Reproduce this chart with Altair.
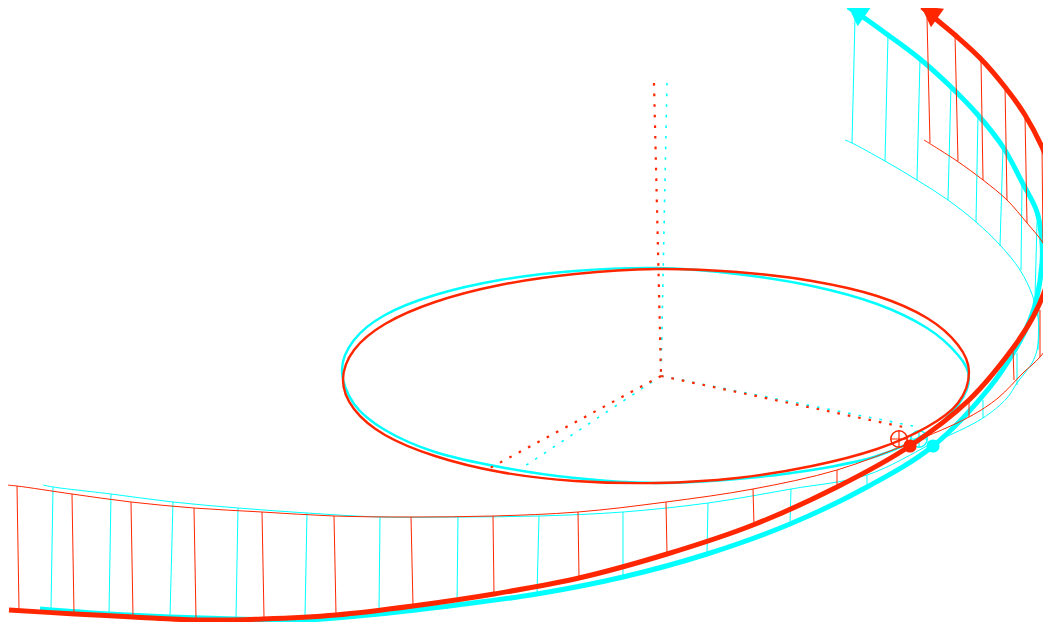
import altair as alt
import pandas as pd

RED = "#ff2600"
CYAN = "#00ffff"

red_thick = [(9,610),(75,614),(133,617),(197,620),(263,619),(336,615),(413,606),(494,594),(579,578),(667,554),
             (753,525),(837,487),(910,446),(969,400),(1013,348),(1033,317),(1045,290),(1051,267),(1058,225),(1051,170),
             (1042,147),(1025,115),(1005,87),(980,58),(955,35),(937,20),(922,7)]
cyan_thick = [(40,609),(109,614),(170,617),(236,619),(305,620),(379,614),(457,605),(537,594),(623,577),(707,554),
              (790,524),(867,487),(933,446),(990,387),(1015,350),(1030,320),(1037,297),(1042,263),(1042,243),(1037,212),
              (1022,182),(1003,147),(978,115),(950,86),(920,59),(888,35),(863,17),(848,7)]

red_base = [(6,485),(17,486),(72,494),(131,502),(194,508),(262,512),(334,516),(411,517),(493,516),(578,512),
            (666,502),(753,489),(837,470),(910,443),(969,417),(998,398),(1023,373),(1040,357),(1051,340),(1060,300),
            (1051,262),(1043,243),(1027,223),(1007,200),(983,180),(957,161),(924,140)]
cyan_base = [(43,485),(53,487),(111,494),(173,502),(238,508),(307,513),(380,517),(458,517),(539,516),(623,512),
             (708,503),(791,489),(867,475),(933,443),(983,418),(1007,398),(1017,383),(1032,363),(1037,350),(1039,327),
             (1033,297),(1020,270),(1000,245),(976,222),(948,200),(917,180),(885,161),(852,143),(845,140)]

red_stems = [(17,486,19,609),(72,494,74,613),(131,502,133,617),(194,508,196,619),(262,512,264,617),(334,516,336,614),
             (411,517,413,606),(493,516,494,594),(578,512,579,578),(666,502,667,554),(753,489,754,525),(837,470,837,487),
             (969,400,969,417),(1013,350,1014,380),(1040,310,1040,357),(1042,147,1043,243),(1025,116,1027,223),
             (1005,86,1007,200),(981,60,983,180),(955,35,958,161),(927,18,930,143)]
cyan_stems = [(53,487,51,609),(111,494,109,614),(173,502,170,617),(238,508,236,618),(307,513,305,616),(380,517,379,610),
              (458,517,457,605),(539,516,537,594),(623,512,623,577),(708,503,707,554),(791,489,790,524),(867,475,867,487),
              (983,400,983,418),(1017,353,1017,385),(1039,310,1038,350),(1037,222,1035,298),(1022,182,1021,270),
              (1003,147,1000,246),(978,115,976,222),(951,86,948,200),(920,59,917,180),(888,35,885,161),(855,18,852,143)]

red_ellipse = [(969,372),(958,403),(927,427),(877,449),(812,466),(737,478),(656,483),(575,481),(500,472),(435,456),
               (385,435),(354,409),(343,380),(354,350),(385,324),(435,302),(500,285),(575,274),(656,269),(737,272),
               (812,281),(877,296),(927,318),(958,345)]
cyan_ellipse = [(969,378),(958,405),(927,433),(877,456),(812,470),(737,479),(656,483),(575,478),(500,467),(435,452),
                (385,430),(354,404),(342,370),(354,340),(385,315),(435,295),(500,280),(575,271),(656,268),(737,274),
                (812,286),(877,304),(927,328),(958,355)]

red_dots = [[(654,83),(661,376)], [(661,376),(490,468)], [(661,376),(908,428)]]
cyan_dots = [[(667,83),(661,376)], [(661,376),(522,468)], [(661,376),(918,427)]]

red_head = (931.8,17.5)
cyan_head = (858.5,16.5)
red_ball = (910,446)
cyan_ball = (933,446)
red_ring = (899,439)
cyan_ring = (919,439)

X = alt.X("x:Q", scale=alt.Scale(domain=[8,1043], nice=False, zero=False), axis=None)
Y = alt.Y("y:Q", scale=alt.Scale(domain=[622,8], nice=False, zero=False), axis=None)
X2 = alt.X2("x2:Q")
Y2 = alt.Y2("y2:Q")

def line(points, color, width, interpolate="catmull-rom", dash=None):
    df = pd.DataFrame(points, columns=["x","y"]).assign(i=range(len(points)))
    kw = dict(color=color, strokeWidth=width, interpolate=interpolate)
    if dash:
        kw["strokeDash"] = dash
    return alt.Chart(df).mark_line(**kw).encode(x=X, y=Y, order="i:Q")

def stems(rows, color):
    df = pd.DataFrame(rows, columns=["x","y","x2","y2"])
    return alt.Chart(df).mark_rule(color=color, strokeWidth=1).encode(x=X, y=Y, x2=X2, y2=Y2)

def point(p, color, **kw):
    df = pd.DataFrame([p], columns=["x","y"])
    return alt.Chart(df).mark_point(color=color, **kw).encode(x=X, y=Y)

def group(thick, base, ring_stems, ellipse, dots, head, ball, ring, color, dotw):
    layers = [line(base, color, 1), stems(ring_stems, color), line(ellipse, color, 2.4, "cardinal-closed")]
    layers += [line(d, color, dotw, "linear", [2.6, 8]) for d in dots]
    layers += [
        line(thick, color, 5),
        point(head, color, shape="triangle-down", filled=True, size=520, angle=5, opacity=1),
        point(ball, color, shape="circle", filled=True, size=175, opacity=1),
        point(ring, color, shape="circle", filled=False, size=270, strokeWidth=1.5, opacity=1),
        point(ring, color, shape="M-1,0H1M0,-1V1", filled=False, size=270, strokeWidth=1.2, opacity=1),
    ]
    return layers

layers = group(cyan_thick, cyan_base, cyan_stems, cyan_ellipse, cyan_dots, cyan_head, cyan_ball, cyan_ring, CYAN, 1.6)
layers += group(red_thick, red_base, red_stems, red_ellipse, red_dots, red_head, red_ball, red_ring, RED, 2.2)

chart = alt.layer(*layers).properties(
    width=1035, height=614, padding=0,
    autosize=alt.AutoSizeParams(type="none"),
).configure_view(stroke=None)

chart.save("out.html", embed_options={"renderer": "svg", "actions": False})
